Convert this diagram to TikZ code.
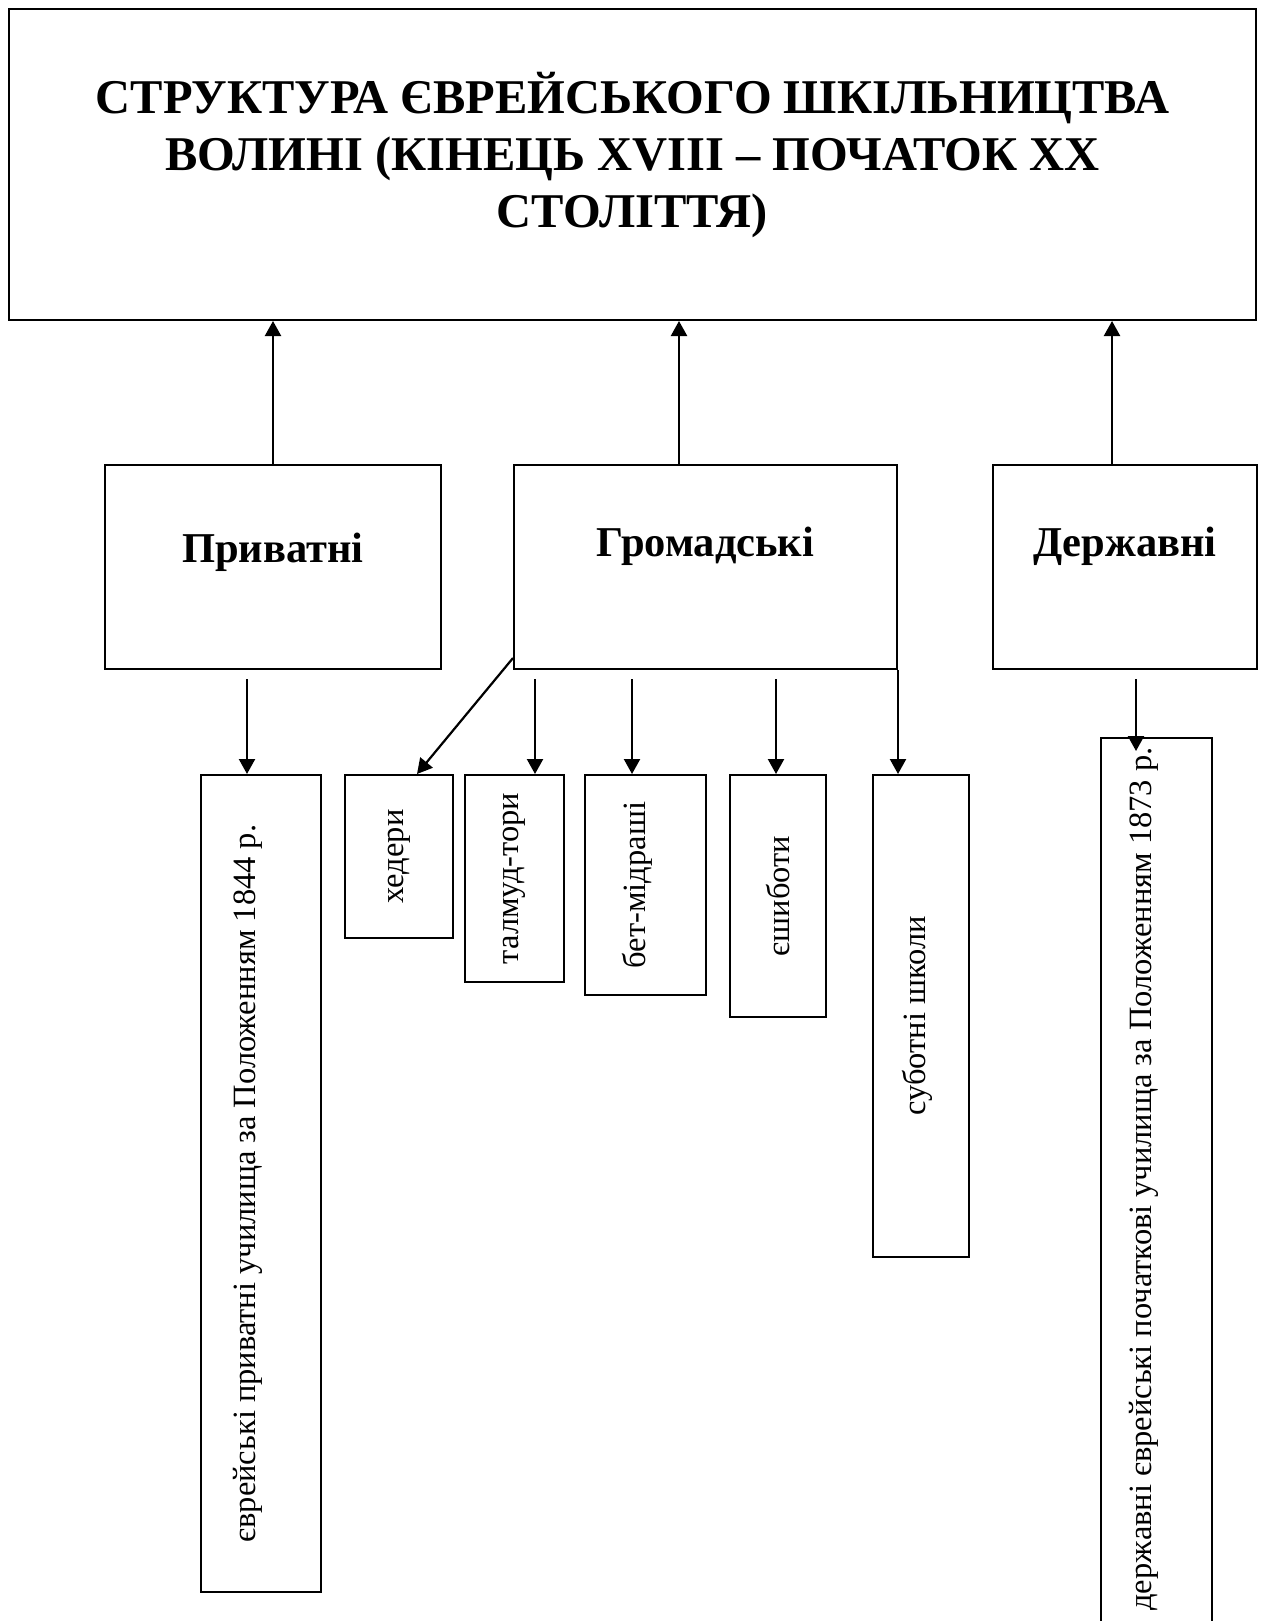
\documentclass[tikz,border=0pt]{standalone}
\usepackage{fontspec}
\setmainfont{Liberation Serif}
\usepackage{graphicx}
\usetikzlibrary{arrows.meta}

\begin{document}
\begin{tikzpicture}[x=1pt,y=-1pt]
	\tikzset{frame/.style={draw,line width=2pt,inner sep=0pt,anchor=north west}}
	\tikzset{heading/.style={font=\fontsize{42.5}{57}\selectfont\bfseries,align=center}}
	\tikzset{vtext/.style={font=\fontsize{32.5}{38}\selectfont}}
	\tikzset{arr/.style={line width=2.2pt,-{Triangle[length=15pt,width=16pt]}}}
	\path[use as bounding box,clip] (0,0) rectangle (1264,1621);
	\node[frame,minimum width=1247pt,minimum height=311pt,
		label={[heading,font=\fontsize{48.5}{57}\selectfont\bfseries,yshift=9pt]center:СТРУКТУРА ЄВРЕЙСЬКОГО ШКІЛЬНИЦТВА\\ВОЛИНІ (КІНЕЦЬ XVIII – ПОЧАТОК XX\\СТОЛІТТЯ)}] (title) at (8,8) {};
	\node[frame,minimum width=336pt,minimum height=204pt,label={[heading,yshift=15pt]center:Приватні}] (priv) at (104,464) {};
	\node[frame,minimum width=383pt,minimum height=204pt,label={[heading,yshift=21pt]center:Громадські}] (hrom) at (513,464) {};
	\node[frame,minimum width=264pt,minimum height=204pt,label={[heading,yshift=21pt]center:Державні}] (derzh) at (992,464) {};
	\node[frame,minimum width=120pt,minimum height=817pt,label={[vtext,xshift=-13pt]center:\rotatebox{90}{єврейські приватні училища за Положенням 1844 р.}}] (privsch) at (200,774) {};
	\node[frame,minimum width=108pt,minimum height=163pt,label={[vtext]center:\rotatebox{90}{хедери}}] (kheder) at (344,774) {};
	\node[frame,minimum width=99pt,minimum height=207pt,label={[vtext]center:\rotatebox{90}{талмуд-тори}}] (talmud) at (464,774) {};
	\node[frame,minimum width=121pt,minimum height=220pt,label={[vtext,xshift=-8pt]center:\rotatebox{90}{бет-мідраші}}] (betmid) at (584,774) {};
	\node[frame,minimum width=96pt,minimum height=242pt,label={[vtext]center:\rotatebox{90}{єшиботи}}] (yeshiv) at (729,774) {};
	\node[frame,minimum width=96pt,minimum height=482pt,label={[vtext,xshift=-4pt]center:\rotatebox{90}{суботні школи}}] (subot) at (872,774) {};
	\node[frame,minimum width=111pt,minimum height=930pt,label={[vtext,xshift=-13pt,yshift=24pt]center:\rotatebox{90}{державні єврейські початкові училища за Положенням 1873 р.}}] (derzhsch) at (1100,737) {};
	\coordinate (u2) at (679,0);
	\coordinate (u3) at (1112,0);
	\draw[arr] (priv.north) -- (priv.north |- title.south);
	\draw[arr] (hrom.north -| u2) -- (title.south -| u2);
	\draw[arr] (derzh.north -| u3) -- (title.south -| u3);
	\coordinate (d1) at (247,679);
	\coordinate (d2) at (535,679);
	\coordinate (d3) at (632,679);
	\coordinate (d4) at (776,679);
	\coordinate (d5) at (1136,679);
	\draw[arr] (d1) -- (d1 |- privsch.north);
	\draw[arr] ([yshift=12pt]hrom.south west) -- ([xshift=18pt]kheder.north);
	\draw[arr] (d2) -- (d2 |- talmud.north);
	\draw[arr] (d3) -- (d3 |- betmid.north);
	\draw[arr] (d4) -- (d4 |- yeshiv.north);
	\draw[arr] (hrom.south east) -- (hrom.south east |- subot.north);
	\draw[arr] (d5) -- ++(0,72);
\end{tikzpicture}
\end{document}
